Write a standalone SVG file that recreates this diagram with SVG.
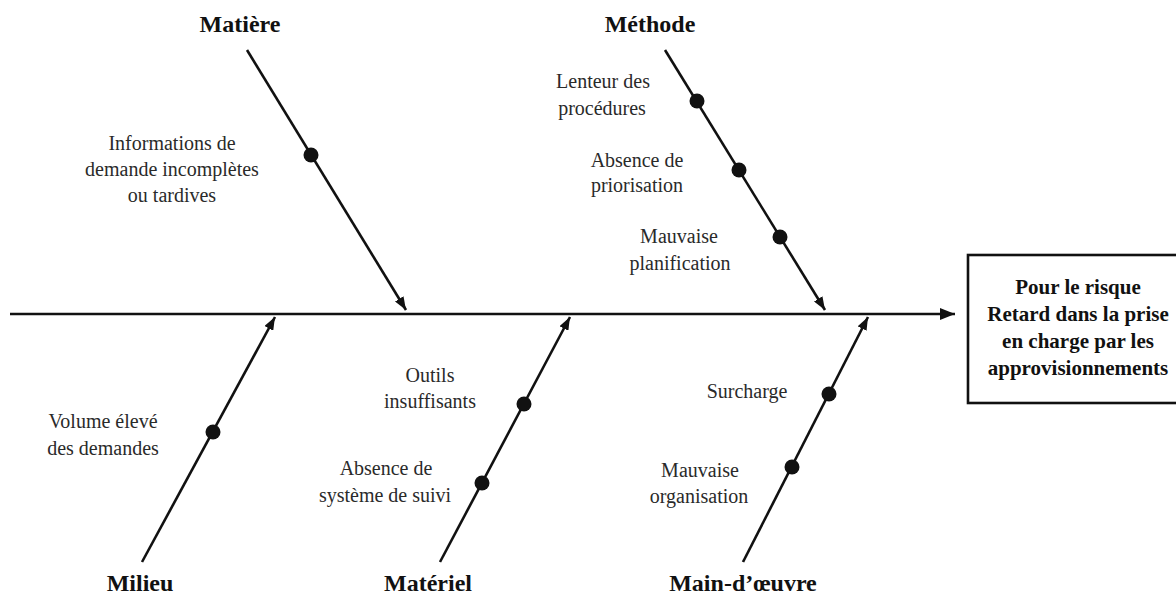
<svg xmlns="http://www.w3.org/2000/svg" width="1176" height="598" viewBox="0 0 1176 598">
<style>
.cat{font-family:"Liberation Serif","Times New Roman",serif;font-weight:bold;font-size:24px;fill:#111;text-anchor:middle}
.cause{font-family:"Liberation Serif","Times New Roman",serif;font-size:20px;fill:#2a2a2a;text-anchor:middle}
.eff{font-family:"Liberation Serif","Times New Roman",serif;font-weight:bold;font-size:21px;fill:#111;text-anchor:middle}
.bone{stroke:#111;stroke-width:2.6;fill:none}
.dot{fill:#111}
</style>
<defs>
<marker id="ah" markerUnits="userSpaceOnUse" markerWidth="14" markerHeight="10" refX="13" refY="5" orient="auto">
<path d="M0,0 L13,5 L0,10 Z" fill="#111"/>
</marker>
<marker id="ahs" markerUnits="userSpaceOnUse" markerWidth="16" markerHeight="12" refX="15" refY="6" orient="auto">
<path d="M0,0 L15,6 L0,12 Z" fill="#111"/>
</marker>
</defs>
<rect width="1176" height="598" fill="#fff"/>
<g id="connectors">
<line class="bone" x1="10" y1="314" x2="955" y2="314" stroke-width="3" marker-end="url(#ahs)"/>
<line class="bone" x1="247" y1="50" x2="406" y2="310" marker-end="url(#ah)"/>
<line class="bone" x1="665" y1="50" x2="825" y2="310" marker-end="url(#ah)"/>
<line class="bone" x1="142" y1="562" x2="275" y2="317" marker-end="url(#ah)"/>
<line class="bone" x1="440" y1="562" x2="570" y2="317" marker-end="url(#ah)"/>
<line class="bone" x1="743" y1="562" x2="868" y2="317" marker-end="url(#ah)"/>
</g>
<g id="effect">
<rect x="968" y="255" width="212" height="148" fill="#fff" stroke="#111" stroke-width="2.6"/>
<text class="eff" x="1078" y="294">Pour le risque</text>
<text class="eff" x="1078" y="321">Retard dans la prise</text>
<text class="eff" x="1078" y="348">en charge par les</text>
<text class="eff" x="1078" y="375">approvisionnements</text>
</g>
<g id="matiere">
<text class="cat" x="240" y="32">Matière</text>
<circle class="dot" cx="311" cy="155" r="7.5"/>
<text class="cause" x="172" y="150">Informations de</text>
<text class="cause" x="172" y="176">demande incomplètes</text>
<text class="cause" x="172" y="202">ou tardives</text>
</g>
<g id="methode">
<text class="cat" x="650" y="32">Méthode</text>
<circle class="dot" cx="697" cy="101" r="7.5"/>
<circle class="dot" cx="739" cy="170" r="7.5"/>
<circle class="dot" cx="780" cy="237" r="7.5"/>
<text class="cause" x="603" y="88">Lenteur des</text>
<text class="cause" x="602" y="115">procédures</text>
<text class="cause" x="637" y="167">Absence de</text>
<text class="cause" x="637" y="192">priorisation</text>
<text class="cause" x="679" y="243">Mauvaise</text>
<text class="cause" x="680" y="270">planification</text>
</g>
<g id="milieu">
<text class="cat" x="140" y="591">Milieu</text>
<circle class="dot" cx="213" cy="432" r="7.5"/>
<text class="cause" x="103" y="428">Volume élevé</text>
<text class="cause" x="103" y="455">des demandes</text>
</g>
<g id="materiel">
<text class="cat" x="428" y="591">Matériel</text>
<circle class="dot" cx="524" cy="404" r="7.5"/>
<circle class="dot" cx="482" cy="483" r="7.5"/>
<text class="cause" x="430" y="382">Outils</text>
<text class="cause" x="430" y="408">insuffisants</text>
<text class="cause" x="386" y="475">Absence de</text>
<text class="cause" x="385" y="502">système de suivi</text>
</g>
<g id="main-oeuvre">
<text class="cat" x="743" y="591">Main-d’œuvre</text>
<circle class="dot" cx="829" cy="394" r="7.5"/>
<circle class="dot" cx="792" cy="467" r="7.5"/>
<text class="cause" x="747" y="398">Surcharge</text>
<text class="cause" x="700" y="477">Mauvaise</text>
<text class="cause" x="699" y="503">organisation</text>
</g>
</svg>
